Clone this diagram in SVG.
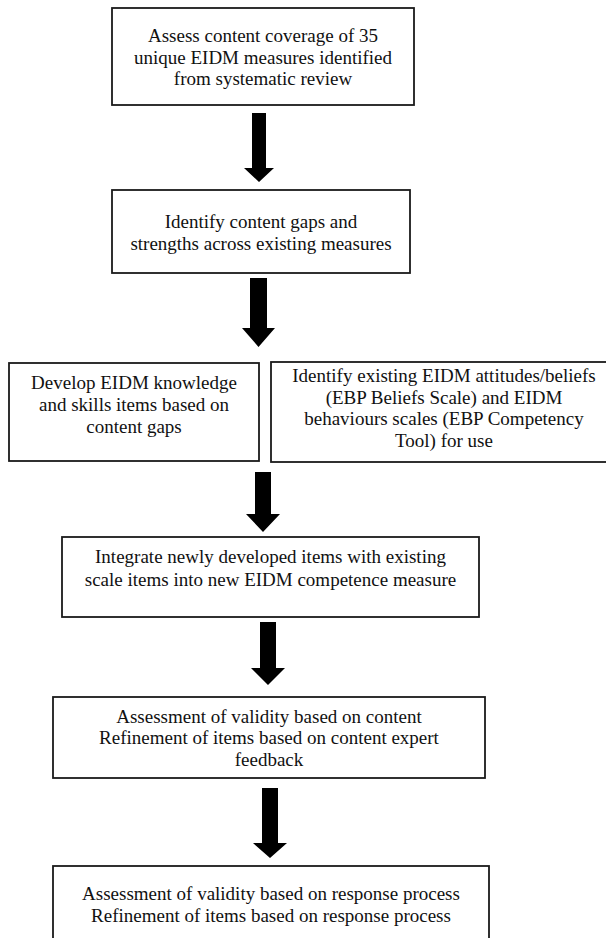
<svg xmlns="http://www.w3.org/2000/svg" width="606" height="938" viewBox="0 0 606 938">
<defs>
<style>
.box{fill:#fff;stroke:#1a1a1a;stroke-width:1.8}
.t{font-family:"Liberation Serif","Times New Roman",serif;font-size:19px;fill:#111;text-anchor:middle}
.arr{fill:#000}
</style>
</defs>
<rect width="606" height="938" fill="#fff"/>
<g id="connectors">
<polygon class="arr" points="252,113 266,113 266,168 274,168 259,182 244,168 252,168"/>
<polygon class="arr" points="250,278 267,278 267,328 275,328 258.5,347 242,328 250,328"/>
<polygon class="arr" points="255,472 271,472 271,514 280,514 263,532 246,514 255,514"/>
<polygon class="arr" points="260,622 276,622 276,668 285,668 268,685 251,668 260,668"/>
<polygon class="arr" points="262,788 278,788 278,843 287,843 270,858 253,843 262,843"/>
</g>
<g id="n1">
<rect class="box" x="112" y="8" width="302" height="97"/>
<text class="t" x="263" y="42">Assess content coverage of 35</text>
<text class="t" x="263" y="63.5">unique EIDM measures identified</text>
<text class="t" x="263" y="85">from systematic review</text>
</g>
<g id="n2">
<rect class="box" x="112" y="190" width="298" height="83"/>
<text class="t" x="261" y="228">Identify content gaps and</text>
<text class="t" x="261" y="249.5">strengths across existing measures</text>
</g>
<g id="n3">
<rect class="box" x="9" y="363" width="250" height="98"/>
<text class="t" x="134" y="389">Develop EIDM knowledge</text>
<text class="t" x="134" y="411">and skills items based on</text>
<text class="t" x="134" y="433">content gaps</text>
</g>
<g id="n4">
<rect class="box" x="271" y="362" width="350" height="100"/>
<text class="t" x="444" y="382">Identify existing EIDM attitudes/beliefs</text>
<text class="t" x="444" y="403.5">(EBP Beliefs Scale) and EIDM</text>
<text class="t" x="444" y="425">behaviours scales (EBP Competency</text>
<text class="t" x="444" y="446.5">Tool) for use</text>
</g>
<g id="n5">
<rect class="box" x="62" y="537" width="417" height="80"/>
<text class="t" x="270.5" y="563">Integrate newly developed items with existing</text>
<text class="t" x="270.5" y="586">scale items into new EIDM competence measure</text>
</g>
<g id="n6">
<rect class="box" x="53" y="697" width="432" height="81"/>
<text class="t" x="269" y="723">Assessment of validity based on content</text>
<text class="t" x="269" y="744">Refinement of items based on content expert</text>
<text class="t" x="269" y="765.5">feedback</text>
</g>
<g id="n7">
<rect class="box" x="53" y="866" width="436" height="90"/>
<text class="t" x="271" y="900">Assessment of validity based on response process</text>
<text class="t" x="271" y="922">Refinement of items based on response process</text>
</g>
</svg>
